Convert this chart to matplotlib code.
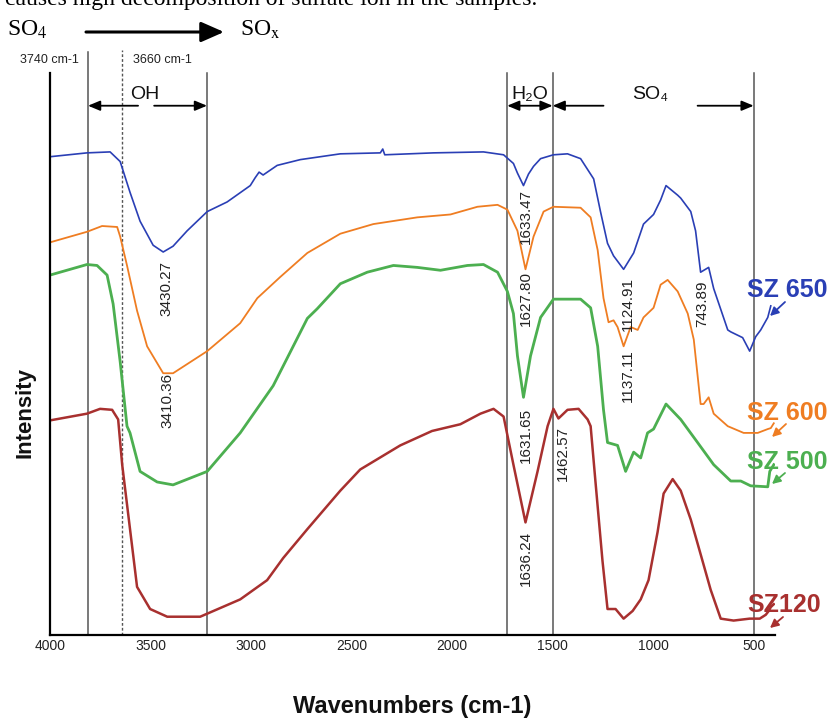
import matplotlib
matplotlib.use('Agg')
import matplotlib.pyplot as plt
from matplotlib.patches import FancyArrowPatch

plt.rcParams['font.family'] = ['Liberation Sans', 'DejaVu Sans']
plt.rcParams['mathtext.fontset'] = 'stix'

# ---------------- data ----------------
wn_650 = [4000, 3816, 3701, 3651, 3602, 3552, 3487, 3437, 3388, 3318, 3218, 3119, 3004, 2980,
          2960, 2940, 2870, 2755, 2556, 2357, 2345, 2335, 2093, 1844, 1744, 1695, 1675, 1645,
          1620, 1595, 1560, 1496, 1426, 1361, 1296, 1262, 1227, 1197, 1147, 1097, 1048, 998,
          963, 936, 878, 863, 813, 789, 764, 740, 724, 699, 629, 614, 555, 530, 520, 490, 465,
          430, 415]
int_650 = [497, 501, 502, 492, 460, 430, 405, 398, 404, 420, 440, 450, 467, 475,
           481, 478, 488, 494, 500, 501, 505, 499, 501, 502, 499, 490, 480, 467,
           479, 487, 495, 499, 500, 495, 474, 440, 407, 394, 380, 397, 427, 437,
           452, 467, 457, 454, 440, 420, 377, 380, 382, 360, 317, 315, 309, 299, 295, 310, 317,
           330, 342]

wn_600 = [4000, 3816, 3741, 3666, 3651, 3617, 3567, 3517, 3437, 3388, 3218, 3054, 2969, 2855,
          2720, 2556, 2392, 2173, 2008, 1874, 1774, 1725, 1675, 1635, 1595, 1545, 1496, 1361,
          1311, 1276, 1247, 1222, 1197, 1177, 1147, 1112, 1077, 1048, 998, 963, 928, 878, 828,
          798, 764, 749, 724, 699, 629, 550, 480, 430, 415, 400]
int_600 = [408, 419, 425, 424, 414, 384, 337, 300, 272, 272, 295, 324, 350, 372,
           397, 417, 427, 434, 437, 445, 447, 442, 420, 380, 414, 440, 445, 444,
           434, 400, 350, 325, 327, 320, 300, 320, 317, 330, 340, 364, 369, 357, 334,
           307, 240, 240, 247, 230, 217, 210, 210, 214, 215, 220]

wn_500 = [4000, 3816, 3766, 3716, 3686, 3651, 3617, 3602, 3552, 3467, 3388, 3218, 3054, 2890,
          2720, 2671, 2556, 2422, 2292, 2173, 2058, 1924, 1844, 1774, 1725, 1695, 1675, 1645,
          1610, 1560, 1496, 1361, 1311, 1276, 1247, 1227, 1177, 1137, 1097, 1062, 1028, 998,
          936, 863, 779, 699, 614, 564, 515, 430, 420, 400]
int_500 = [374, 385, 384, 374, 344, 284, 217, 210, 170, 159, 156, 170, 210, 259,
           329, 339, 365, 377, 384, 382, 379, 384, 385, 377, 357, 334, 290, 247,
           290, 330, 349, 349, 340, 300, 234, 200, 197, 170, 190, 184, 210, 214,
           240, 224, 200, 177, 160, 160, 155, 154, 170, 177]

wn_120 = [4000, 3816, 3751, 3691, 3661, 3641, 3602, 3567, 3502, 3417, 3253, 3054, 2920, 2840,
          2720, 2556, 2457, 2258, 2100, 1959, 1859, 1794, 1744, 1695, 1635, 1575, 1525, 1496,
          1471, 1426, 1371, 1326, 1311, 1286, 1252, 1227, 1187, 1147, 1102, 1062, 1023, 978,
          948, 903, 863, 813, 764, 714, 664, 600, 520, 470, 440, 425, 415, 400]
int_120 = [223, 230, 235, 234, 224, 177, 110, 50, 27, 19, 19, 37, 57, 80,
           110, 150, 172, 197, 212, 219, 230, 235, 227, 177, 117, 170, 217, 235,
           225, 234, 235, 224, 217, 157, 77, 27, 27, 17, 25, 37, 57, 107,
           147, 162, 150, 120, 84, 47, 17, 15, 17, 17, 21, 25, 29, 32]

series_names = ['SZ 650', 'SZ 600', 'SZ 500', 'SZ120']
series_colors = ['#2a3fb5', '#ef7d22', '#4caf50', '#a8302f']

x_ticks = [4000, 3500, 3000, 2500, 2000, 1500, 1000, 500]
region_lines = [3811, 3219, 1726, 1500, 500]
dotted_line = 3640

peak_labels = ['3430.27', '3410.36', '1633.47', '1627.80', '1631.65', '1636.24',
               '1462.57', '1124.91', '1137.11', '743.89']
peak_x = [3420, 3417, 1635, 1635, 1635, 1635, 1451, 1127, 1127, 754]
peak_y = [360, 244, 435, 350, 207, 80, 189, 344, 270, 344]

# ---------------- figure ----------------
W, H = 833, 720
fig = plt.figure(figsize=(W / 100, H / 100), dpi=100)


def fx(px):
    return px / W


def fy(py):
    return 1 - py / H


ax = fig.add_axes([fx(50), fy(635), fx(775) - fx(50), fy(73) - fy(635)])
ax.set_xlim(4000, 394)
ax.set_ylim(0, 584)

lws = [1.2, 1.3, 2.0, 1.8]
for wn, iv, c, lw in zip([wn_650, wn_600, wn_500, wn_120],
                         [int_650, int_600, int_500, int_120], series_colors, lws):
    ax.plot(wn, iv, color=c, lw=lw, solid_joinstyle='round')

for xv in region_lines:
    top = 1.037 if xv == 3811 else 1.0
    ax.axvline(xv, ymin=0, ymax=top, color='#555555', lw=1.1, clip_on=False, zorder=1)
ax.axvline(dotted_line, ymin=0, ymax=1.041, color='#555555', lw=1.0,
           linestyle=(0, (2, 1.5)), clip_on=False, zorder=1)

for s in ['top', 'right']:
    ax.spines[s].set_visible(False)
for s in ['left', 'bottom']:
    ax.spines[s].set_linewidth(1.6)
    ax.spines[s].set_color('black')
ax.set_yticks([])
ax.set_xticks(x_ticks)
ax.set_xticklabels([str(t) for t in x_ticks])
ax.tick_params(axis='x', length=0, pad=3, labelsize=10, colors='#222222')

# peak annotations
for lab, px_, py_ in zip(peak_labels, peak_x, peak_y):
    ax.text(px_, py_, lab, rotation=90, ha='center', va='center', fontsize=11, color='#222222')

# region arrows and labels
arr_kw = dict(arrowstyle='-|>,head_length=0.6,head_width=0.25', color='black', lw=1.3,
              mutation_scale=12, shrinkA=0, shrinkB=0)
y_arr = 550
ax.annotate('', xy=(3811, y_arr), xytext=(3562, y_arr), arrowprops=arr_kw)
ax.annotate('', xy=(3219, y_arr), xytext=(3482, y_arr), arrowprops=arr_kw)
ax.annotate('', xy=(1500, y_arr), xytext=(1247, y_arr), arrowprops=arr_kw)
ax.annotate('', xy=(500, y_arr), xytext=(779, y_arr), arrowprops=arr_kw)
dbl_kw = dict(arr_kw)
dbl_kw['arrowstyle'] = '<|-|>,head_length=0.6,head_width=0.25'
ax.annotate('', xy=(1500, y_arr), xytext=(1726, y_arr), arrowprops=dbl_kw)

ax.text(3527, 562, 'OH', ha='center', va='center', fontsize=14, color='#111111')
ax.text(1613, 562, 'H₂O', ha='center', va='center', fontsize=14, color='#111111')
ax.text(1013, 562, 'SO₄', ha='center', va='center', fontsize=14, color='#111111')

# cm-1 labels above the plot
fig.text(fx(49), fy(60), '3740 cm-1', ha='center', va='center', fontsize=9, color='#222222')
fig.text(fx(162), fy(60), '3660 cm-1', ha='center', va='center', fontsize=9, color='#222222')

# header lines (serif)
fig.text(fx(5), fy(5), 'causes high decomposition of sulfate ion in the samples.',
         ha='left', va='baseline', fontsize=17, family=['Liberation Serif', 'DejaVu Serif'])
fig.text(fx(7), fy(36), r'SO$_4$', ha='left', va='baseline', fontsize=17,
         family=['Liberation Serif', 'DejaVu Serif'])
fig.text(fx(240), fy(36), r'SO$_{\rm x}$', ha='left', va='baseline', fontsize=17,
         family=['Liberation Serif', 'DejaVu Serif'])
fig.add_artist(FancyArrowPatch(posA=(fx(86), fy(32)), posB=(fx(224), fy(32)),
                               transform=fig.transFigure,
                               arrowstyle='-|>,head_length=0.5,head_width=0.22',
                               mutation_scale=28, lw=2.2, color='black',
                               shrinkA=0, shrinkB=0))

# series labels with small arrows
lab_y = [290, 413, 462, 605]
arrow_from = [(785, 302), (786, 424), (785, 473), (783, 617)]
arrow_to = [(770, 316), (772, 437), (772, 484), (770, 628)]
for name, c, ly, a0, a1 in zip(series_names, series_colors, lab_y, arrow_from, arrow_to):
    fig.text(fx(747), fy(ly), name, ha='left', va='center', fontsize=18,
             fontweight='bold', color=c)
    fig.add_artist(FancyArrowPatch(posA=(fx(a0[0]), fy(a0[1])), posB=(fx(a1[0]), fy(a1[1])),
                                   transform=fig.transFigure,
                                   arrowstyle='-|>,head_length=0.5,head_width=0.25',
                                   mutation_scale=10, lw=1.3, color=c,
                                   shrinkA=0, shrinkB=0))

# axis titles
fig.text(fx(412), fy(706), 'Wavenumbers (cm-1)', ha='center', va='center', fontsize=17,
         fontweight='bold', color='#111111')
fig.text(fx(25), fy(412), 'Intensity', ha='center', va='center', rotation=90, fontsize=16,
         fontweight='bold', color='#111111')

fig.savefig('out.png', dpi=100)
